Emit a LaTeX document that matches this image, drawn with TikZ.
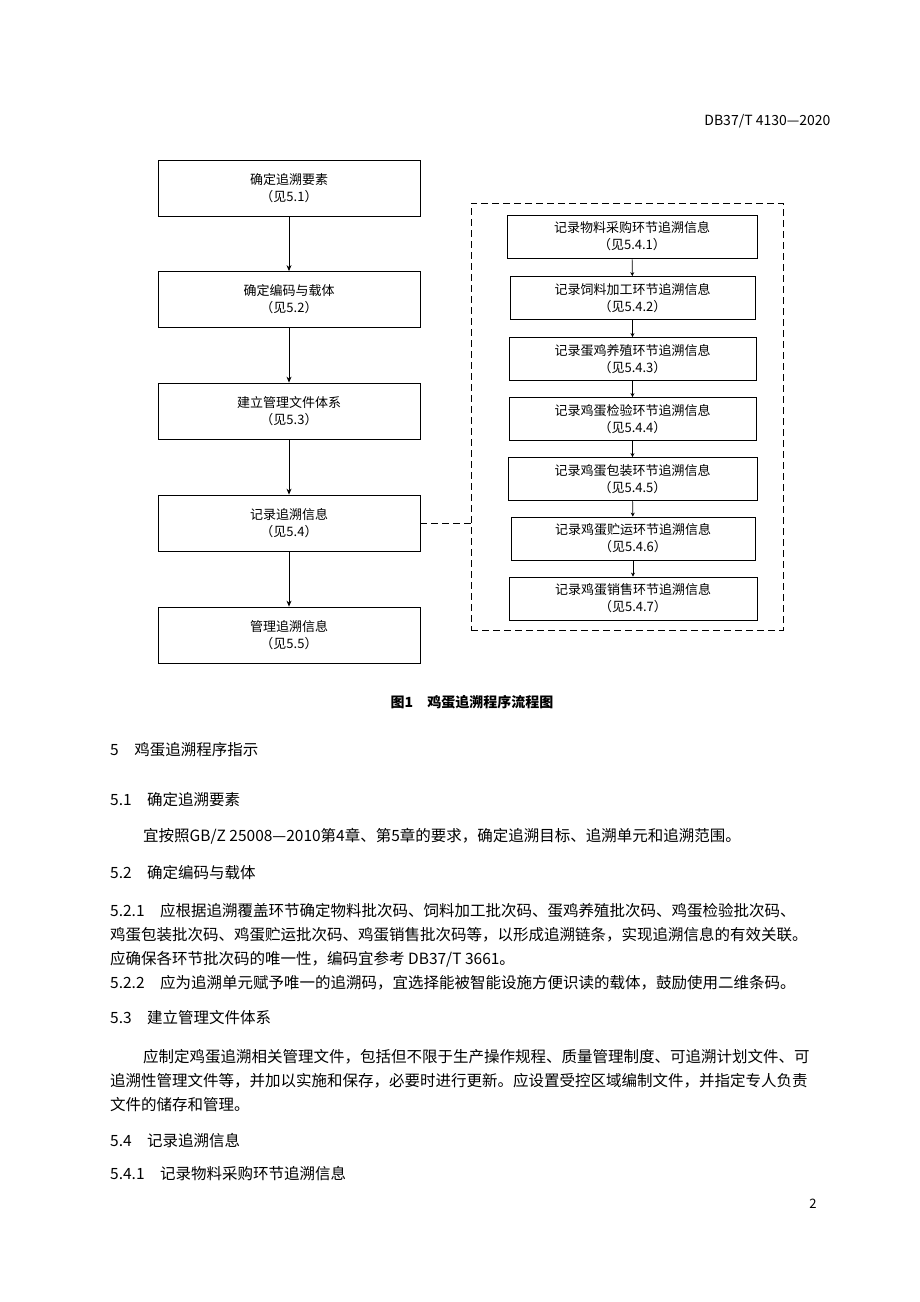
\documentclass[tikz,border=0pt]{standalone}
\usepackage{fontspec}
\setmainfont{Noto Sans CJK SC}
\usetikzlibrary{arrows.meta}
\begin{document}
\begin{tikzpicture}[x=1pt,y=-1pt,
  lbox/.style={draw,line width=0.8pt,minimum width=262pt,minimum height=56pt,align=center,font=\fontsize{13}{17}\selectfont},
  rbox/.style={draw,line width=0.8pt,minimum width=248pt,minimum height=43pt,align=center,font=\fontsize{13}{17}\selectfont},
  arr/.style={-{Stealth[length=6pt,width=5pt]},line width=0.8pt},
  sarr/.style={-{Stealth[length=4pt,width=4pt]},line width=0.6pt},
  txt/.style={anchor=west,font=\fontsize{15.5}{18}\selectfont,inner sep=0pt},
  hd/.style={anchor=west,font=\fontsize{15.5}{18}\selectfont,inner sep=0pt}]
\useasboundingbox[fill=white] (0,0) rectangle (920,1302);
\node[anchor=east,font=\fontsize{14}{16}\selectfont] (hdr) at (834,121) {DB37/T 4130—2020};

\node[lbox] (a1) at (289,188.5) {确定追溯要素\\（见5.1）};
\node[lbox] (a2) at (289,299.5) {确定编码与载体\\（见5.2）};
\node[lbox] (a3) at (289,411) {建立管理文件体系\\（见5.3）};
\node[lbox] (a4) at (289,523) {记录追溯信息\\（见5.4）};
\node[lbox] (a5) at (289,635) {管理追溯信息\\（见5.5）};
\foreach \i/\j in {a1/a2,a2/a3,a3/a4,a4/a5} \draw[arr] (\i) -- (\j);

\node[draw,dashed,line width=1pt,dash pattern=on 7pt off 4pt,minimum width=312pt,minimum height=427pt] (frame) at (627,416.5) {};
\coordinate (fl) at (frame.west |- a4.east);
\draw[line width=1pt,dash pattern=on 7pt off 4pt] (a4.east) -- (fl);

\node[rbox,minimum width=250pt] (b1) at (632,236.5) {记录物料采购环节追溯信息\\（见5.4.1）};
\node[rbox,minimum width=245pt] (b2) at (632.5,298) {记录饲料加工环节追溯信息\\（见5.4.2）};
\node[rbox,minimum width=247pt] (b3) at (632.5,359) {记录蛋鸡养殖环节追溯信息\\（见5.4.3）};
\node[rbox,minimum width=247pt] (b4) at (632.5,419) {记录鸡蛋检验环节追溯信息\\（见5.4.4）};
\node[rbox,minimum width=249pt] (b5) at (632.5,479) {记录鸡蛋包装环节追溯信息\\（见5.4.5）};
\node[rbox,minimum width=244pt] (b6) at (633,538.5) {记录鸡蛋贮运环节追溯信息\\（见5.4.6）};
\node[rbox,minimum width=248pt] (b7) at (633,598.5) {记录鸡蛋销售环节追溯信息\\（见5.4.7）};
\foreach \i/\j in {b1/b2,b2/b3,b3/b4,b4/b5,b5/b6,b6/b7} \draw[sarr] (\i) -- (\j);

\node[font=\fontsize{14}{16}\selectfont\bfseries] (cap) at (472,702) {图1\quad 鸡蛋追溯程序流程图};

\node[hd] (h5) at (110,750) {5\quad 鸡蛋追溯程序指示};
\node[hd] (h51) at (110,800) {5.1\quad 确定追溯要素};
\node[txt] (p1) at (143,836) {宜按照GB/Z 25008—2010第4章、第5章的要求，确定追溯目标、追溯单元和追溯范围。};
\node[hd] (h52) at (110,873) {5.2\quad 确定编码与载体};
\node[txt] (p2) at (110,911) {5.2.1\quad 应根据追溯覆盖环节确定物料批次码、饲料加工批次码、蛋鸡养殖批次码、鸡蛋检验批次码、};
\node[txt] (p3) at (110,935) {鸡蛋包装批次码、鸡蛋贮运批次码、鸡蛋销售批次码等，以形成追溯链条，实现追溯信息的有效关联。};
\node[txt] (p4) at (110,959) {应确保各环节批次码的唯一性，编码宜参考 DB37/T 3661。};
\node[txt] (p5) at (110,983) {5.2.2\quad 应为追溯单元赋予唯一的追溯码，宜选择能被智能设施方便识读的载体，鼓励使用二维条码。};
\node[hd] (h53) at (110,1018) {5.3\quad 建立管理文件体系};
\node[txt] (p6) at (143,1057) {应制定鸡蛋追溯相关管理文件，包括但不限于生产操作规程、质量管理制度、可追溯计划文件、可};
\node[txt] (p7) at (110,1081) {追溯性管理文件等，并加以实施和保存，必要时进行更新。应设置受控区域编制文件，并指定专人负责};
\node[txt] (p8) at (110,1105) {文件的储存和管理。};
\node[hd] (h54) at (110,1141) {5.4\quad 记录追溯信息};
\node[hd] (h541) at (110,1174) {5.4.1\quad 记录物料采购环节追溯信息};
\node[font=\fontsize{13}{15}\selectfont] (pg) at (813,1204) {2};
\end{tikzpicture}
\end{document}
